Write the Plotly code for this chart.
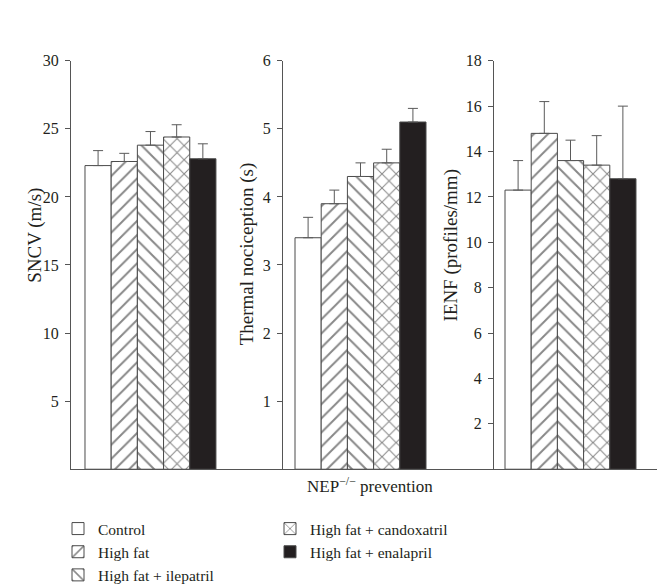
import plotly.graph_objects as go

groups = ["Control", "High fat", "High fat + ilepatril", "High fat + candoxatril", "High fat + enalapril"]
sncv = [22.3, 22.6, 23.8, 24.4, 22.8]
sncv_err = [1.1, 0.6, 1.0, 0.9, 1.1]
thermal = [3.4, 3.9, 4.3, 4.5, 5.1]
thermal_err = [0.3, 0.2, 0.2, 0.2, 0.2]
ienf = [12.3, 14.8, 13.6, 13.4, 12.8]
ienf_err = [1.3, 1.4, 0.9, 1.3, 3.2]

y_titles = ["SNCV (m/s)", "Thermal nociception (s)", "IENF (profiles/mm)"]
y_ranges = [[0, 30], [0, 6], [0, 18]]
y_ticks = [[5, 10, 15, 20, 25, 30], [1, 2, 3, 4, 5, 6], [2, 4, 6, 8, 10, 12, 14, 16, 18]]
x_title = "NEP<sup>−/−</sup> prevention"

panel_vals = [sncv, thermal, ienf]
panel_errs = [sncv_err, thermal_err, ienf_err]

fills = ["white", "white", "white", "white", "#231f20"]
shapes = ["", "/", "\\", "x", ""]
edge = "#4a4a4a"
TXT = "#231f20"
FONT = "Liberation Serif"

W, H = 665, 584
xdom_px = [(63, 275), (275, 486), (486, 650)]
xrng = [(-1.034, 7.06), (-0.958, 7.095), (-0.92, 5.34)]
ydom = [(584 - 466) / 584, (584 - 46) / 584]
title_pos = [(27, 226), (239, 245), (443, 236)]

fig = go.Figure()
for p in range(3):
    vals, errs = panel_vals[p], panel_errs[p]
    xa = "x" if p == 0 else f"x{p+1}"
    ya = "y" if p == 0 else f"y{p+1}"
    for i, g in enumerate(groups):
        fig.add_trace(go.Bar(
            x=[i], y=[vals[i]], width=1.0, name=g,
            xaxis=xa, yaxis=ya,
            showlegend=(p == 0),
            legend="legend" if i < 3 else "legend2",
            marker=dict(color=fills[i], line=dict(color=edge, width=1),
                        pattern=dict(shape=shapes[i], fgcolor="#111111", bgcolor=fills[i],
                                     size=10, solidity=0.2)),
            error_y=dict(type="data", symmetric=False, array=[errs[i]], arrayminus=[0],
                         color="#5a5a5a", thickness=1, width=5),
        ))
    axx = dict(domain=[xdom_px[p][0] / W, xdom_px[p][1] / W], range=list(xrng[p]),
               showline=True, linecolor="#555555", linewidth=1, showticklabels=False,
               ticks="", showgrid=False, zeroline=False, anchor=ya, fixedrange=True)
    axy = dict(domain=ydom, range=y_ranges[p], tickvals=y_ticks[p], ticks="outside", ticklen=5,
               tickcolor="#555555", showline=True, linecolor="#555555", linewidth=1,
               showgrid=False, zeroline=False, anchor=xa, ticklabelstandoff=3,
               tickfont=dict(family=FONT, size=16, color=TXT))
    key = "" if p == 0 else str(p + 1)
    fig.update_layout(**{f"xaxis{key}": axx, f"yaxis{key}": axy})
    fig.add_annotation(text=y_titles[p], x=title_pos[p][0] / W, y=1 - title_pos[p][1] / H,
                       xref="paper", yref="paper", showarrow=False, textangle=-90,
                       xanchor="center", yanchor="middle",
                       font=dict(family=FONT, size=19, color=TXT))

fig.add_annotation(text=x_title, x=362 / W, y=1 - 482 / H,
                   xref="paper", yref="paper", showarrow=False,
                   xanchor="center", yanchor="middle",
                   font=dict(family=FONT, size=17, color=TXT))

leg_font = dict(family=FONT, size=15.5, color=TXT)
fig.update_layout(
    width=W, height=H, margin=dict(l=0, r=0, t=0, b=0),
    paper_bgcolor="white", plot_bgcolor="white", barmode="overlay",
    legend=dict(x=50 / W, y=1 - 510 / H, xanchor="left", yanchor="top", orientation="v",
                font=leg_font, tracegroupgap=0, itemwidth=30, bgcolor="rgba(0,0,0,0)"),
    legend2=dict(x=262 / W, y=1 - 510 / H, xanchor="left", yanchor="top", orientation="v",
                 font=leg_font, tracegroupgap=0, itemwidth=30, bgcolor="rgba(0,0,0,0)"),
)

fig.write_html("out.html")
